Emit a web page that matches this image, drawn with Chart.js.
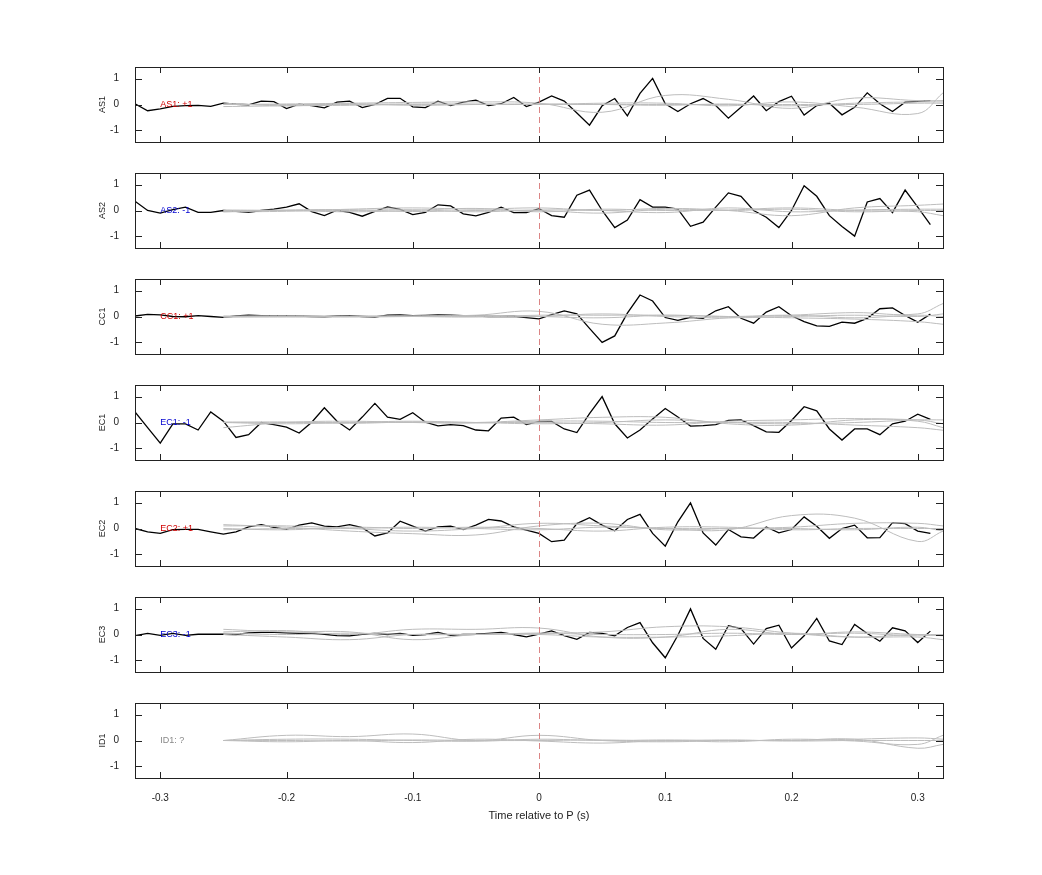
<!DOCTYPE html>
<html><head><meta charset="utf-8">
<script src="https://cdn.jsdelivr.net/npm/chart.js@4/dist/chart.umd.min.js"></script>
<style>body{margin:0;background:#fff;width:1042px;height:875px;position:relative;overflow:hidden}.p{position:absolute;left:0;width:1042px}</style>
</head><body>
<script>
const panelNames = ["AS1","AS2","CC1","EC1","EC2","EC3","ID1"];
const panelLabels = ["AS1: +1","AS2: -1","CC1: +1","EC1: -1","EC2: +1","EC3: -1","ID1: ?"];
const labelColors = ["#d00000","#0000d0","#d00000","#0000d0","#d00000","#0000d0","#888888"];
const xTicks = [-0.3,-0.2,-0.1,0,0.1,0.2,0.3];
const yTicks = [-1,0,1];
const tBlack = []; for (let i=0;i<64;i++) tBlack.push(+(-0.32+i*0.01).toFixed(2));
const tGray = [-0.25,-0.2,-0.15,-0.1,-0.05,0,0.05,0.1,0.15,0.2,0.25,0.3,0.32];

const AS1 = [0.03,-0.24,-0.17,-0.07,-0.04,-0.03,-0.07,0.05,0.01,-0.01,0.13,0.11,-0.16,0.01,-0.04,-0.13,0.09,0.13,-0.12,0,0.24,0.24,-0.09,-0.12,0.13,-0.04,0.09,0.17,-0.04,0.03,0.27,-0.08,0.09,0.33,0.13,-0.33,-0.8,-0.05,0.23,-0.44,0.43,1.01,0.03,-0.27,0.03,0.23,-0.04,-0.53,-0.11,0.33,-0.24,0.11,0.32,-0.41,-0.04,0.05,-0.4,-0.11,0.45,0.03,-0.27,0.09,0.12,0.15];
const AS2 = [0.36,0.0,-0.1,0.03,0.13,-0.07,-0.07,0.0,-0.03,-0.07,0.0,0.05,0.13,0.26,-0.04,-0.2,0.01,-0.07,-0.22,-0.03,0.14,0.04,-0.16,-0.07,0.22,0.18,-0.13,-0.21,-0.07,0.13,-0.08,-0.08,0.07,-0.2,-0.26,0.59,0.79,0.0,-0.66,-0.37,0.42,0.13,0.13,0.05,-0.61,-0.45,0.13,0.68,0.55,0.0,-0.26,-0.66,0.0,0.96,0.55,-0.2,-0.62,-0.99,0.33,0.46,-0.08,0.79,0.13,-0.55];
const CC1 = [0.02,0.08,0.06,0.0,-0.01,0.03,0.0,-0.03,0.02,0.05,0.03,0.03,0.03,0.02,0.0,-0.01,0.02,0.03,0.0,-0.02,0.05,0.06,0.03,0.04,0.06,0.05,0.03,0.02,0.0,0.0,0.01,-0.04,-0.09,0.07,0.22,0.1,-0.46,-1.0,-0.75,0.13,0.83,0.6,-0.04,-0.15,-0.03,-0.07,0.22,0.38,-0.07,-0.26,0.17,0.38,0.03,-0.2,-0.36,-0.38,-0.22,-0.26,-0.07,0.3,0.33,0.04,-0.22,0.09];
const EC1 = [0.41,-0.2,-0.8,-0.05,-0.05,-0.29,0.41,0.05,-0.58,-0.47,0.0,-0.08,-0.18,-0.41,0.01,0.57,0.05,-0.29,0.21,0.74,0.21,0.12,0.38,0.01,-0.13,-0.08,-0.12,-0.29,-0.32,0.17,0.21,-0.08,0.04,0.04,-0.25,-0.39,0.34,1.0,-0.05,-0.6,-0.29,0.14,0.54,0.21,-0.14,-0.12,-0.08,0.08,0.1,-0.12,-0.36,-0.38,0.08,0.61,0.45,-0.25,-0.68,-0.25,-0.25,-0.47,-0.05,0.05,0.32,0.12];
const EC2 = [0.0,-0.13,-0.19,-0.04,-0.03,-0.03,-0.13,-0.22,-0.13,0.06,0.15,0.04,-0.03,0.13,0.22,0.09,0.06,0.15,0.03,-0.29,-0.17,0.28,0.09,-0.1,0.06,0.09,-0.04,0.13,0.35,0.29,0.06,-0.06,-0.19,-0.51,-0.45,0.19,0.42,0.13,-0.09,0.35,0.55,-0.19,-0.68,0.26,0.99,-0.17,-0.64,-0.04,-0.32,-0.37,0.06,-0.17,-0.04,0.45,0.09,-0.38,0.0,0.13,-0.36,-0.35,0.23,0.19,-0.1,-0.19];
const EC3 = [-0.04,0.04,-0.03,0.04,-0.03,0.01,0.01,0.01,0.0,0.06,0.08,0.08,0.06,0.04,0.04,0.01,-0.04,-0.05,0.01,0.04,0.0,0.04,-0.03,0.0,0.08,-0.03,0.0,0.01,0.04,0.08,0.0,-0.09,0.01,0.14,-0.04,-0.19,0.08,0.04,-0.05,0.27,0.46,-0.32,-0.9,-0.03,0.99,-0.15,-0.57,0.34,0.23,-0.37,0.23,0.36,-0.52,-0.05,0.62,-0.25,-0.39,0.39,0.04,-0.26,0.26,0.14,-0.31,0.13];
const blackSeries = [AS1,AS2,CC1,EC1,EC2,EC3,null];

const gray = [
 [[0,0.02,0.05,0.08,0.1,0.05,-0.3,0.35,0.2,-0.15,0.25,0.15,0.15],[-0.08,-0.05,-0.03,0,0.02,0,0.05,0.05,-0.05,0.1,-0.1,-0.35,0.45],[0,0,0,0.02,0,0,0,0,0,0,0,0.05,0.05],[0.05,-0.05,0.03,-0.03,0,0.02,0,-0.03,0.02,-0.05,0.05,0.1,0.1]],
 [[-0.05,-0.03,0.05,0.1,0.05,0.1,0,0.08,0,-0.2,0.1,0.2,0.25],[0,0,-0.05,0,0.08,-0.05,0.05,0,0.02,0.1,0,-0.05,-0.2],[0.02,0,0,0.03,-0.05,0.02,0,-0.08,0.1,-0.05,0.02,0.05,0.05],[-0.05,0.02,0.03,-0.04,0,0,-0.1,0.05,0,0.05,-0.05,0,0]],
 [[0,0.03,0,0.02,0.05,0.2,-0.3,-0.25,-0.05,0.05,0.15,0.1,0.5],[-0.03,0,0.02,0,-0.02,0.05,0.05,0.05,0,-0.05,-0.1,-0.2,-0.3],[0,-0.02,0,0.02,0,0,0.1,0,-0.05,0,0.05,0,0.1],[0.02,0,-0.02,0,0.03,0,-0.05,0.05,0,0.05,-0.05,0.05,0]],
 [[-0.2,0,0.05,0,0,0.1,0.2,0.2,-0.05,-0.1,0.1,0.1,-0.05],[0,-0.05,0,0.05,0,0,-0.05,-0.1,0.05,0.1,0.15,0.05,-0.2],[0.02,0,0,0,-0.02,0.05,0.05,0,0,0,-0.1,-0.2,-0.3],[0,0.02,-0.03,0.02,0,-0.05,0,0.1,0,-0.05,0,0.1,0.1]],
 [[0.1,0.1,0,-0.1,0,0.2,0.1,0,-0.05,0.5,0.4,-0.5,-0.1],[0.15,0.05,-0.1,-0.2,-0.25,0.1,0.2,-0.05,0,0.05,0.2,0.2,0.1],[0,-0.05,0.05,0,0.05,0,-0.1,0.05,0.05,-0.05,0,0,0],[-0.05,0,0,0.05,0,-0.05,0.05,0,0,0,-0.05,0.05,-0.1]],
 [[0.2,0.1,0.1,-0.2,0,0.05,0.1,0.3,0.3,0.05,-0.1,0,-0.05],[0.1,0.15,0,0.2,0.2,0.25,-0.1,-0.1,0.2,0,0.1,0,0],[0,-0.1,-0.2,0,0,0,-0.1,-0.1,-0.05,0.05,-0.1,-0.1,-0.2],[0.05,0,0.05,0,0,0.05,0,0,0.05,0,0.05,-0.05,0]],
 [[0,0.2,0.15,0.25,0,0.2,0,-0.05,0,0,0.05,-0.3,-0.15],[0,-0.05,0,-0.08,0.05,-0.02,-0.1,0,-0.05,0.05,-0.02,-0.15,0.2],[0,0.05,0.05,0,-0.03,0.05,0,0.02,0,0,0.05,0.1,0.05],[0,0,-0.02,0.02,0,0,0.02,-0.02,0.02,-0.02,0,0,0]]
];

function framePlugin(k){
 return {id:'frame'+k, afterDatasetsDraw(chart){
  const c=chart.ctx, a=chart.chartArea, xs=chart.scales.x, ys=chart.scales.y;
  c.save();
  c.strokeStyle='rgba(215,120,120,0.9)'; c.lineWidth=1; c.setLineDash([6,4]);
  const x0=Math.round(xs.getPixelForValue(0))+0.5;
  c.beginPath(); c.moveTo(x0,a.top); c.lineTo(x0,a.bottom); c.stroke();
  c.setLineDash([]);
  c.strokeStyle='#222'; c.lineWidth=1;
  c.strokeRect(Math.round(a.left)+0.5,Math.round(a.top)+0.5,Math.round(a.right-a.left),Math.round(a.bottom-a.top));
  c.beginPath();
  xTicks.forEach(v=>{const p=Math.round(xs.getPixelForValue(v))+0.5; c.moveTo(p,a.top); c.lineTo(p,a.top+6); c.moveTo(p,a.bottom); c.lineTo(p,a.bottom-6);});
  yTicks.forEach(v=>{const p=Math.round(ys.getPixelForValue(v))+0.5; c.moveTo(a.left,p); c.lineTo(a.left+7,p); c.moveTo(a.right,p); c.lineTo(a.right-7,p);});
  c.stroke();
  c.font='9px "Liberation Sans", Arial'; c.fillStyle=labelColors[k]; c.textBaseline='middle'; c.textAlign='left';
  c.fillText(panelLabels[k], xs.getPixelForValue(-0.3), ys.getPixelForValue(0));
  c.fillStyle='#222'; c.textAlign='center';
  c.translate(103, ys.getPixelForValue(0)); c.rotate(-Math.PI/2); c.fillText(panelNames[k],0,0);
  c.restore();
  if(k===6){c.save(); c.font='11px "Liberation Sans", Arial'; c.fillStyle='#222'; c.textAlign='center'; c.textBaseline='middle';
   c.fillText('Time relative to P (s)', xs.getPixelForValue(0), a.bottom+38); c.restore();}
 }};
}

for(let k=0;k<7;k++){
 const last = k===6;
 const div=document.createElement('div'); div.className='p';
 const top = 67+106*k-14;
 const h = last?144:103;
 div.style.top=top+'px'; div.style.height=h+'px';
 const cv=document.createElement('canvas'); div.appendChild(cv); document.body.appendChild(div);
 const ds=[];
 gray[k].forEach(g=>ds.push({data:tGray.map((t,i)=>({x:t,y:g[i]})),borderColor:'#bdbdbd',borderWidth:1,pointRadius:0,tension:0.4,fill:false}));
 if(blackSeries[k]) ds.push({data:tBlack.map((t,i)=>({x:t,y:blackSeries[k][i]})),borderColor:'#000',borderWidth:1.3,pointRadius:0,tension:0,fill:false});
 new Chart(cv,{type:'line',data:{datasets:ds},plugins:[framePlugin(k)],options:{
  responsive:true,maintainAspectRatio:false,animation:false,
  layout:{padding:{left:0,right:99,top:10,bottom:0}},
  plugins:{legend:{display:false},tooltip:{enabled:false}},
  scales:{
   x:{type:'linear',min:-0.32,max:0.32,grid:{display:false},border:{display:false},
      afterBuildTicks:s=>{s.ticks=xTicks.map(v=>({value:v}));},
      afterFit:s=>{s.height= last?55:10;},
      ticks:{display:last,padding:6,color:'#222',font:{size:10,family:'"Liberation Sans", Arial'},maxRotation:0,callback:v=>String(v)}},
   y:{min:-1.45,max:1.45,grid:{display:false},border:{display:false},
      afterBuildTicks:s=>{s.ticks=yTicks.map(v=>({value:v}));},
      afterFit:s=>{s.width=135;},
      ticks:{padding:8,color:'#222',font:{size:10,family:'"Liberation Sans", Arial'},callback:v=>String(v)}}
  }}});
}
</script>
</body></html>
